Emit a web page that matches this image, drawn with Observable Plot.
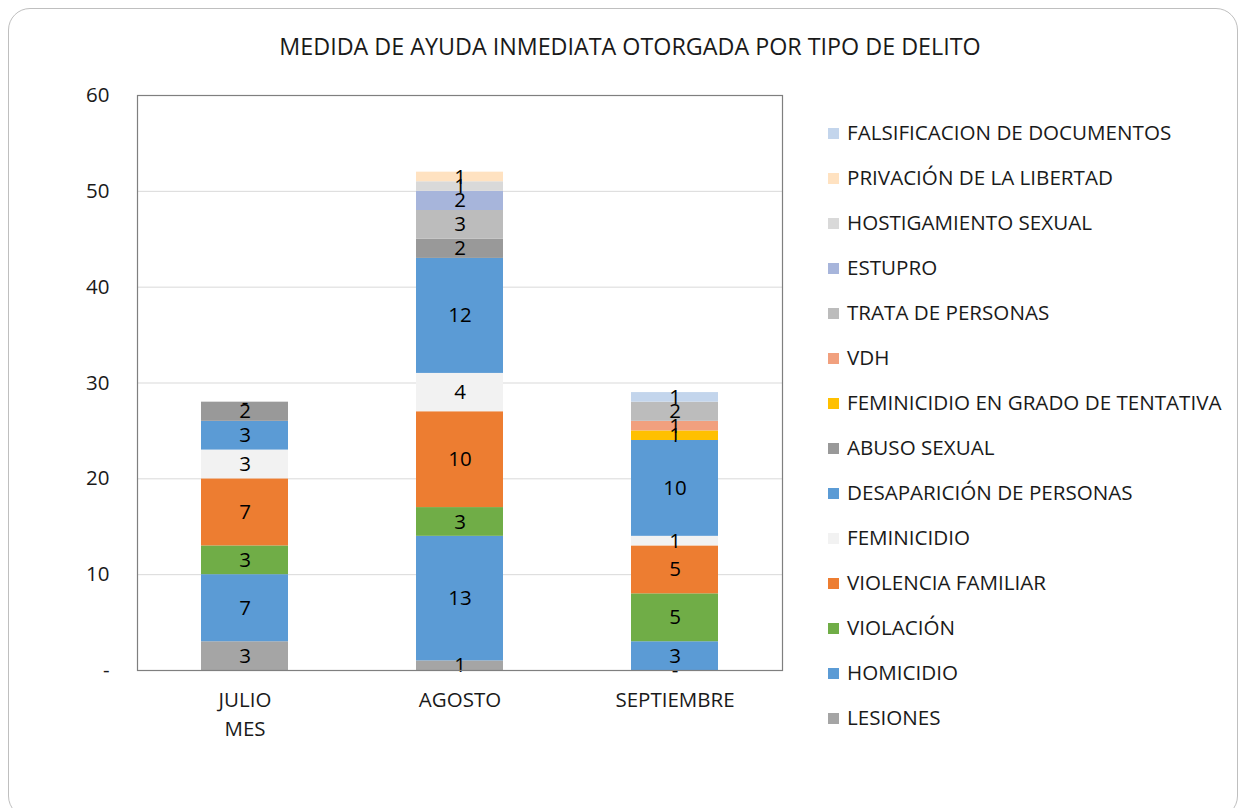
<!DOCTYPE html>
<html>
<head>
<meta charset="utf-8">
<script src="https://cdn.jsdelivr.net/npm/d3@7"></script>
<script src="https://cdn.jsdelivr.net/npm/@observablehq/plot@0.6"></script>
<style>
  body { margin: 0; background: #fff; font-family: "Open Sans", sans-serif; }
  #wrap { position: relative; width: 1247px; height: 808px; overflow: hidden; }
  #card { position: absolute; left: 8px; top: 8px; width: 1230px; height: 810px; border: 1px solid #bfbfbf; border-radius: 22px; box-sizing: border-box; }
  #title { position: absolute; left: 0; width: 1260px; top: 30px; text-align: center; font-size: 23.3px; color: #1a1a1a; }
  #chart { position: absolute; left: 0; top: 0; }
  #legend { position: absolute; left: 828px; top: 118px; font-size: 20.6px; color: #1a1a1a; }
  .li { height: 45px; display: flex; align-items: flex-start; white-space: nowrap; }
  .sw { width: 11px; height: 11px; margin-right: 8px; margin-top: 10px; }
</style>
</head>
<body>
<div id="wrap">
  <div id="card"></div>
  <div id="title">MEDIDA DE AYUDA INMEDIATA OTORGADA POR TIPO DE DELITO</div>
  <div id="chart"></div>
  <div id="legend"></div>
</div>
<script>
const months = ["JULIO", "AGOSTO", "SEPTIEMBRE"];
const series = ["LESIONES", "HOMICIDIO", "VIOLACIÓN", "VIOLENCIA FAMILIAR", "FEMINICIDIO",
  "DESAPARICIÓN DE PERSONAS", "ABUSO SEXUAL", "FEMINICIDIO EN GRADO DE TENTATIVA", "VDH",
  "TRATA DE PERSONAS", "ESTUPRO", "HOSTIGAMIENTO SEXUAL", "PRIVACIÓN DE LA LIBERTAD",
  "FALSIFICACION DE DOCUMENTOS"];
const colors = ["#a5a5a5", "#5b9bd5", "#70ad47", "#ed7d31", "#f2f2f2",
  "#5b9bd5", "#999999", "#ffc000", "#f1a07e",
  "#bcbcbc", "#a7b5db", "#d9d9d9", "#ffe2c1", "#c3d5ec"];
// values per month, in series order (null = blank)
const julio      = [3, 7, 3, 7, 3, 3, 2, 0, null, null, null, null, null, null];
const agosto     = [1, 13, 3, 10, 4, 12, 2, null, null, 3, 2, 1, 1, null];
const septiembre = [0, 3, 5, 5, 1, 10, null, 1, 1, 2, null, null, null, 1];
const yTicks = [0, 10, 20, 30, 40, 50, 60];

const data = [];
[julio, agosto, septiembre].forEach((vals, i) => {
  vals.forEach((v, j) => {
    if (v !== null) data.push({month: months[i], series: series[j], value: v});
  });
});

const font = "Open Sans, sans-serif";
const chart = Plot.plot({
  width: 1247,
  height: 808,
  marginLeft: 137,
  marginRight: 465,
  marginTop: 95,
  marginBottom: 138,
  style: {fontFamily: font, fontSize: "20.5px", color: "#1a1a1a", background: "transparent"},
  x: {domain: months, paddingInner: 0.595, paddingOuter: 0.2975, label: null, tickSize: 0, tickPadding: 22},
  y: {domain: [0, 60], ticks: yTicks, label: null, tickSize: 0, tickPadding: 28,
      tickFormat: d => d === 0 ? "-" : d},
  color: {domain: series, range: colors},
  marks: [
    Plot.gridY(yTicks, {stroke: "#d9d9d9", strokeOpacity: 1}),
    Plot.barY(data, {x: "month", y: "value", z: "series", fill: "series", order: series}),
    Plot.text(data, Plot.stackY({x: "month", y: "value", z: "series", order: series,
      text: d => d.value === 0 ? "-" : String(d.value), fill: "#000", fontSize: 20.5})),
    Plot.frame({stroke: "#7f7f7f", strokeWidth: 1.2}),
    Plot.text(["MES"], {x: () => "JULIO", frameAnchor: "bottom", dy: 65, fontSize: 20.5, fill: "#1a1a1a"})
  ]
});
document.getElementById("chart").appendChild(chart);

const legend = document.getElementById("legend");
series.slice().reverse().forEach(s => {
  const row = document.createElement("div");
  row.className = "li";
  const sw = document.createElement("div");
  sw.className = "sw";
  sw.style.background = colors[series.indexOf(s)];
  const t = document.createElement("span");
  t.textContent = s;
  row.appendChild(sw); row.appendChild(t);
  legend.appendChild(row);
});
</script>
</body>
</html>
